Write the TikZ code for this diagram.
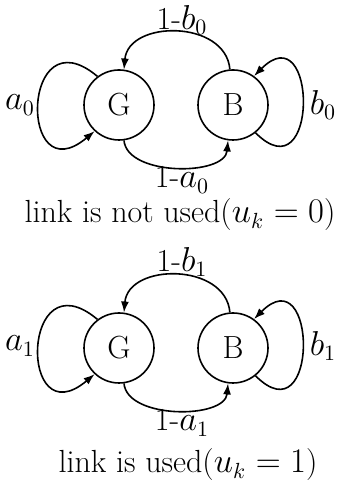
\documentclass[tikz,border=0pt]{standalone}
\usetikzlibrary{arrows.meta}
\begin{document}
\begin{tikzpicture}[x=0.5pt,y=0.5pt,
  state/.style={circle,draw,line width=0.8pt,minimum size=35pt,inner sep=0pt,font=\fontsize{16}{19}\selectfont},
  lbl/.style={inner sep=0pt,font=\fontsize{16}{19}\selectfont},
  conn/.style={line width=0.8pt,-{Latex[length=5.5pt,width=4pt]}}]
\useasboundingbox (0,0) rectangle (344,490);
% top diagram
\node[state] (G1) at (119,385) {G};
\node[state] (B1) at (233,385) {B};
\draw[conn] (G1.127) .. controls +(140:100) and +(220:100) .. (G1.227);
\draw[conn] (B1.-51) .. controls +(-45:90) and +(45:90) .. (B1.54);
\draw[conn] (B1.95) .. controls +(95:50) and +(85:50) .. (G1.82);
\draw[conn] (G1.278) .. controls +(275:36) and +(265:36) .. (B1.262);
\node[lbl] (a0) at (20,385) {$a_0$};
\node[lbl] (b0) at (323,385) {$b_0$};
\node[lbl] (nb0) at (182,470) {1-$b_0$};
\node[lbl] (na0) at (182,310) {1-$a_0$};
\node[lbl] (cap1) at (180,275) {link is not used($u_k=0$)};
% bottom diagram
\node[state] (G2) at (119,142) {G};
\node[state] (B2) at (233,142) {B};
\draw[conn] (G2.127) .. controls +(140:100) and +(220:100) .. (G2.227);
\draw[conn] (B2.-51) .. controls +(-45:90) and +(45:90) .. (B2.54);
\draw[conn] (B2.95) .. controls +(95:50) and +(85:50) .. (G2.82);
\draw[conn] (G2.278) .. controls +(275:36) and +(265:36) .. (B2.262);
\node[lbl] (a1) at (20,144) {$a_1$};
\node[lbl] (b1) at (323,144) {$b_1$};
\node[lbl] (nb1) at (182,228) {1-$b_1$};
\node[lbl] (na1) at (182,67) {1-$a_1$};
\node[lbl] (cap2) at (188,25) {link is used($u_k=1$)};
\end{tikzpicture}
\end{document}
